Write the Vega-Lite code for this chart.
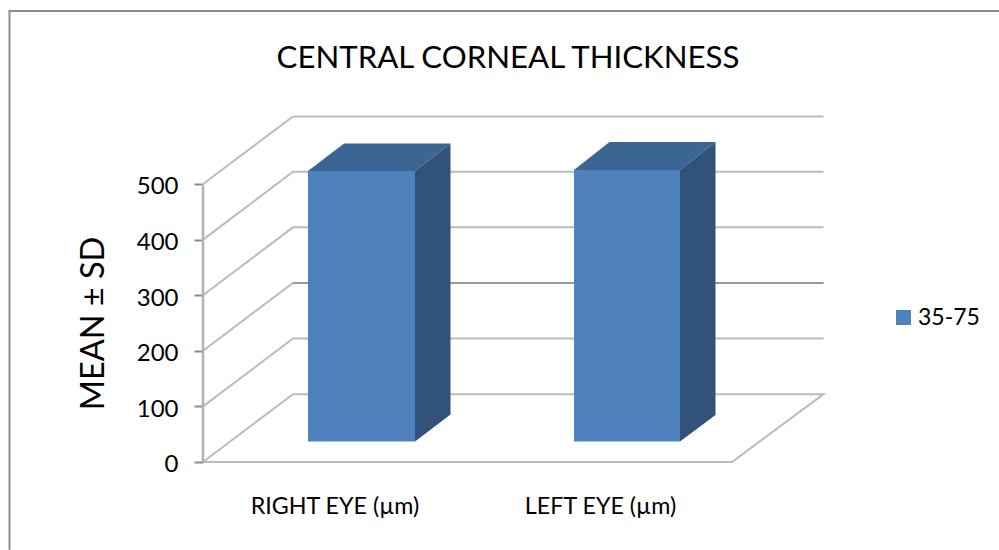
{
"$schema":"https://vega.github.io/schema/vega-lite/v6.json",
"width":999,"height":550,"autosize":"none","padding":0,"background":"white",
"config":{"view":{"stroke":null},"font":"Lato"},
"title":{"text":"CENTRAL CORNEAL THICKNESS","orient":"top","anchor":"middle","frame":"group","offset":-74,"dx":8.5,"fontSize":31.2,"fontWeight":"normal","color":"#000000","font":"Lato"},
"datasets":{
"frame":[{"x":9.5,"y":-158},{"x":9.5,"y":811},{"x":999,"y":811}],
"grid":[
{"level":100,"o":1,"x":203,"y":100},{"level":100,"o":2,"x":293,"y":222},{"level":100,"o":3,"x":823.5,"y":222},
{"level":200,"o":1,"x":203,"y":200},{"level":200,"o":2,"x":293,"y":322},{"level":200,"o":3,"x":823.5,"y":322},
{"level":300,"o":1,"x":203,"y":300},{"level":300,"o":2,"x":293,"y":422},{"level":300,"o":3,"x":823.5,"y":422},
{"level":400,"o":1,"x":203,"y":400},{"level":400,"o":2,"x":293,"y":522},{"level":400,"o":3,"x":823.5,"y":522},
{"level":500,"o":1,"x":203,"y":500},{"level":500,"o":2,"x":293,"y":621.5},{"level":500,"o":3,"x":823.5,"y":621.5},
{"level":0,"o":1,"x":203,"y":0},{"level":0,"o":2,"x":293,"y":122},{"level":0,"o":3,"x":823.5,"y":122},{"level":0,"o":4,"x":732,"y":0},{"level":0,"o":5,"x":203,"y":0}
],
"dark":[{"x":293,"y":322},{"x":823.5,"y":322}],
"wall":[{"x":203,"y":0},{"x":203,"y":500}],
"front":[
{"bar":"RIGHT EYE","series":"35-75","x":308,"y":36.9,"y2":523.4},{"bar":"RIGHT EYE","series":"35-75","x":415,"y":36.9,"y2":523.4},
{"bar":"LEFT EYE","series":"35-75","x":574,"y":36.9,"y2":525.2},{"bar":"LEFT EYE","series":"35-75","x":680,"y":36.9,"y2":525.2}
],
"side":[
{"bar":"RIGHT EYE","x":415,"y":36.9,"y2":523.4},{"bar":"RIGHT EYE","x":450.5,"y":85.4,"y2":572.8},
{"bar":"LEFT EYE","x":680,"y":36.9,"y2":525.2},{"bar":"LEFT EYE","x":715.5,"y":84.5,"y2":575.5}
],
"top":[
{"bar":"RIGHT EYE","x":308,"y":523.4,"y2":523.4},{"bar":"RIGHT EYE","x":344,"y":523.4,"y2":572.8},{"bar":"RIGHT EYE","x":415,"y":523.4,"y2":572.8},{"bar":"RIGHT EYE","x":450.5,"y":572.8,"y2":572.8},
{"bar":"LEFT EYE","x":574,"y":525.2,"y2":525.2},{"bar":"LEFT EYE","x":609.5,"y":525.2,"y2":575.5},{"bar":"LEFT EYE","x":680,"y":525.2,"y2":575.5},{"bar":"LEFT EYE","x":715.5,"y":575.5,"y2":575.5}
]
},
"encoding":{
"x":{"field":"x","type":"quantitative","scale":{"domain":[0,999],"nice":false,"zero":false},"axis":{"orient":"bottom","values":[334.5,600],"labelExpr":"datum.value<400?'RIGHT EYE (µm)':'LEFT EYE (µm)'","labelFontSize":23.3,"labelColor":"#000000","labelFont":"Lato","ticks":false,"domain":false,"grid":false,"title":null,"offset":-55,"labelPadding":0,"labelOverlap":false,"labelFlush":false}},
"y":{"field":"y","type":"quantitative","scale":{"domain":[-158.3,830.9],"nice":false,"zero":false},"axis":{"orient":"left","values":[0,100,200,300,400,500],"offset":-203,"domain":false,"grid":false,"tickSize":9,"tickColor":"#8c8c8c","tickWidth":2,"labelFontSize":24,"labelColor":"#000000","labelFont":"Lato","labelPadding":16,"labelOffset":3,"title":"MEAN ± SD","titleFontSize":32.5,"titleFontWeight":"normal","titleColor":"#000000","titleFont":"Lato","titleX":-110,"titleY":323,"titleAngle":-90,"titleAlign":"center","titleBaseline":"middle"}}
},
"layer":[
{"data":{"name":"frame"},"mark":{"type":"line","stroke":"#8c8c8c","strokeWidth":2},"encoding":{"order":{"value":0}}},
{"data":{"name":"grid"},"mark":{"type":"line","stroke":"#bcbcbc","strokeWidth":2},"encoding":{"detail":{"field":"level"},"order":{"field":"o"}}},
{"data":{"name":"dark"},"mark":{"type":"line","stroke":"#8e8e8e","strokeWidth":1.5},"encoding":{}},
{"data":{"name":"wall"},"mark":{"type":"line","stroke":"#b4b4b4","strokeWidth":2.5},"encoding":{}},
{"data":{"name":"top"},"mark":{"type":"area","fill":"#3b6593"},"encoding":{"y2":{"field":"y2"},"detail":{"field":"bar"}}},
{"data":{"name":"side"},"mark":{"type":"area","fill":"#325379"},"encoding":{"y2":{"field":"y2"},"detail":{"field":"bar"}}},
{"data":{"name":"front"},"mark":{"type":"area"},"encoding":{"y2":{"field":"y2"},"detail":{"field":"bar"},
 "color":{"field":"series","type":"nominal","scale":{"domain":["35-75"],"range":["#4f81bd"]},
  "legend":{"orient":"none","legendX":892,"legendY":306,"title":null,"symbolType":"square","symbolSize":225,"symbolStrokeWidth":0,"labelFontSize":23,"labelColor":"#000000","labelFont":"Lato","labelOffset":3}}}}
]
}
